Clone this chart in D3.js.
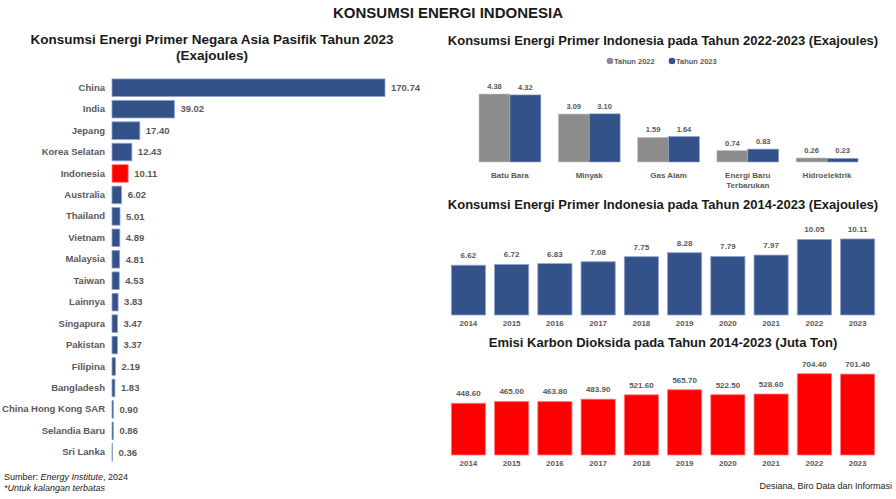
<!DOCTYPE html>
<html>
<head>
<meta charset="utf-8">
<script src="https://cdn.jsdelivr.net/npm/d3@7"></script>
<style>
  body { margin: 0; background: #fff; }
  text { font-family: "Liberation Sans", Arial, sans-serif; }
</style>
</head>
<body>
<script>
// data
var countries = ["China", "India", "Jepang", "Korea Selatan", "Indonesia", "Australia", "Thailand",
  "Vietnam", "Malaysia", "Taiwan", "Lainnya", "Singapura", "Pakistan", "Filipina", "Bangladesh",
  "China Hong Kong SAR", "Selandia Baru", "Sri Lanka"];
var countryValues = [170.74, 39.02, 17.40, 12.43, 10.11, 6.02, 5.01, 4.89, 4.81, 4.53, 3.83, 3.47,
  3.37, 2.19, 1.83, 0.90, 0.86, 0.36];

var sources = ["Batu Bara", "Minyak", "Gas Alam", "Energi Baru|Terbarukan", "Hidroelektrik"];
var seriesNames = ["Tahun 2022", "Tahun 2023"];
var values2022 = [4.38, 3.09, 1.59, 0.74, 0.26];
var values2023 = [4.32, 3.10, 1.64, 0.83, 0.23];

var years = ["2014", "2015", "2016", "2017", "2018", "2019", "2020", "2021", "2022", "2023"];
var energyByYear = [6.62, 6.72, 6.83, 7.08, 7.75, 8.28, 7.79, 7.97, 10.05, 10.11];
var co2ByYear = [448.60, 465.00, 463.80, 483.90, 521.60, 565.70, 522.50, 528.60, 704.40, 701.40];

var blue = "#34528a", gray = "#8c8c8c", red = "#ff0000", labelColor = "#595959";

var svg = d3.select("body").append("svg")
  .attr("width", 896)
  .attr("height", 499);

svg.append("text")
  .attr("x", 448).attr("y", 18)
  .attr("text-anchor", "middle")
  .attr("font-size", 15).attr("font-weight", "bold").attr("fill", "#1a1a1a")
  .text("KONSUMSI ENERGI INDONESIA");

function title(x, y, str, size) {
  svg.append("text")
    .attr("x", x).attr("y", y)
    .attr("text-anchor", "middle")
    .attr("font-size", size).attr("font-weight", "bold").attr("fill", "#1a1a1a")
    .text(str);
}

// ---- left: horizontal bars
title(212, 44, "Konsumsi Energi Primer Negara Asia Pasifik Tahun 2023", 13.5);
title(212, 60, "(Exajoules)", 13.5);

var xLeft = d3.scaleLinear().domain([0, 170.74]).range([112, 385]);
var yLeft = d3.scaleBand().domain(countries).range([77, 463]).paddingInner(0.18).paddingOuter(0.09);

var left = svg.append("g");
left.selectAll("rect")
  .data(countries)
  .enter().append("rect")
    .attr("x", xLeft(0))
    .attr("y", d => yLeft(d))
    .attr("width", (d, i) => xLeft(countryValues[i]) - xLeft(0))
    .attr("height", yLeft.bandwidth())
    .attr("fill", d => d === "Indonesia" ? red : blue)
    .attr("stroke", d => d === "Indonesia" ? "#ff8080" : "#8fa3cc")
    .attr("stroke-width", 0.8);

var yAxisLeft = d3.axisLeft(yLeft).tickSize(0).tickPadding(7);
left.append("g")
  .attr("transform", "translate(112,0)")
  .call(yAxisLeft)
  .call(g => g.select(".domain").remove())
  .selectAll("text")
    .attr("font-size", 9.5).attr("font-weight", "bold").attr("fill", labelColor)
    .attr("font-family", "Liberation Sans, Arial, sans-serif");

left.selectAll(".val")
  .data(countries)
  .enter().append("text")
    .attr("class", "val")
    .attr("x", (d, i) => xLeft(countryValues[i]) + 6)
    .attr("y", d => yLeft(d) + yLeft.bandwidth() / 2)
    .attr("dy", "0.35em")
    .attr("font-size", 9.5).attr("font-weight", "bold").attr("fill", labelColor)
    .text((d, i) => countryValues[i].toFixed(2));

var src = svg.append("text").attr("x", 4).attr("y", 480).attr("font-size", 9).attr("fill", "#222");
src.append("tspan").text("Sumber: ");
src.append("tspan").attr("font-style", "italic").text("Energy Institute");
src.append("tspan").text(", 2024");
svg.append("text").attr("x", 4).attr("y", 491).attr("font-size", 9)
  .attr("font-style", "italic").attr("fill", "#222").text("*Untuk kalangan terbatas");

// ---- top right: grouped bars
title(663, 45, "Konsumsi Energi Primer Indonesia pada Tahun 2022-2023 (Exajoules)", 13);

var legend = svg.append("g").attr("transform", "translate(0,61)");
[[610, gray, seriesNames[0]], [672, blue, seriesNames[1]]].forEach(function(l) {
  legend.append("circle").attr("cx", l[0]).attr("cy", 0).attr("r", 3.3).attr("fill", l[1]);
  legend.append("text").attr("x", l[0] + 4).attr("y", 0).attr("dy", "0.35em")
    .attr("font-size", 7.5).attr("font-weight", "bold").attr("fill", labelColor).text(l[2]);
});

var x0 = d3.scaleBand().domain(sources).range([479, 858]).paddingInner(0.22).paddingOuter(0);
var x1 = d3.scaleBand().domain(seriesNames).range([0, x0.bandwidth()]);
var yTop = d3.scaleLinear().domain([0, 4.38]).range([162, 94]);

var grouped = sources.map((s, i) => [values2022[i], values2023[i]]);
var topChart = svg.append("g");
var groups = topChart.selectAll(".grp")
  .data(grouped)
  .enter().append("g")
    .attr("transform", (d, i) => "translate(" + x0(sources[i]) + ",0)");

groups.selectAll("rect")
  .data(d => d)
  .enter().append("rect")
    .attr("x", (d, j) => x1(seriesNames[j]))
    .attr("y", d => yTop(d))
    .attr("width", x1.bandwidth())
    .attr("height", d => yTop(0) - yTop(d))
    .attr("fill", (d, j) => j === 0 ? gray : blue)
    .attr("stroke", (d, j) => j === 0 ? "#c8c8c8" : "#8fa3cc")
    .attr("stroke-width", 0.6);

groups.selectAll("text")
  .data(d => d)
  .enter().append("text")
    .attr("x", (d, j) => x1(seriesNames[j]) + x1.bandwidth() / 2)
    .attr("y", d => yTop(d) - 5)
    .attr("text-anchor", "middle")
    .attr("font-size", 7.5).attr("font-weight", "bold").attr("fill", labelColor)
    .text(d => d.toFixed(2));

var xAxisTop = d3.axisBottom(x0).tickSize(0).tickPadding(9).tickFormat("");
var axTop = topChart.append("g").attr("transform", "translate(0,162)").call(xAxisTop);
axTop.select(".domain").remove();
axTop.selectAll(".tick").each(function(d) {
  var t = d3.select(this).append("text")
    .attr("y", 16)
    .attr("text-anchor", "middle")
    .attr("font-size", 8).attr("font-weight", "bold").attr("fill", labelColor);
  d.split("|").forEach(function(line, k) {
    t.append("tspan").attr("x", 0).attr("dy", k === 0 ? 0 : 10).text(line);
  });
});

// ---- yearly bar charts
function yearChart(vals, color, edge, baseY, pxPerUnit, titleY, titleStr) {
  title(663, titleY, titleStr, 13);
  var x = d3.scaleBand().domain(years).range([447, 879]).paddingInner(0.21).paddingOuter(0.1);
  var y = d3.scaleLinear().domain([0, d3.max(vals)]).range([baseY, baseY - d3.max(vals) * pxPerUnit]);
  var g = svg.append("g");
  g.selectAll("rect")
    .data(vals)
    .enter().append("rect")
      .attr("x", (d, i) => x(years[i]))
      .attr("y", d => y(d))
      .attr("width", x.bandwidth())
      .attr("height", d => y(0) - y(d))
      .attr("fill", color)
      .attr("stroke", edge)
      .attr("stroke-width", 0.8);
  g.selectAll(".val")
    .data(vals)
    .enter().append("text")
      .attr("class", "val")
      .attr("x", (d, i) => x(years[i]) + x.bandwidth() / 2)
      .attr("y", d => y(d) - 7)
      .attr("text-anchor", "middle")
      .attr("font-size", 8).attr("font-weight", "bold").attr("fill", labelColor)
      .text(d => d.toFixed(2));
  g.append("g")
    .attr("transform", "translate(0," + baseY + ")")
    .call(d3.axisBottom(x).tickSize(0).tickPadding(5))
    .call(a => a.select(".domain").remove())
    .selectAll("text")
      .attr("font-size", 8).attr("font-weight", "bold").attr("fill", labelColor)
      .attr("font-family", "Liberation Sans, Arial, sans-serif");
}

yearChart(energyByYear, blue, "#8fa3cc", 315, 7.52, 209,
  "Konsumsi Energi Primer Indonesia pada Tahun 2014-2023 (Exajoules)");
yearChart(co2ByYear, red, "#ff8080", 455, 0.1154, 347,
  "Emisi Karbon Dioksida pada Tahun 2014-2023 (Juta Ton)");

svg.append("text")
  .attr("x", 892).attr("y", 489)
  .attr("text-anchor", "end")
  .attr("font-size", 9).attr("fill", "#222")
  .text("Desiana, Biro Data dan Informasi");
</script>
</body>
</html>
